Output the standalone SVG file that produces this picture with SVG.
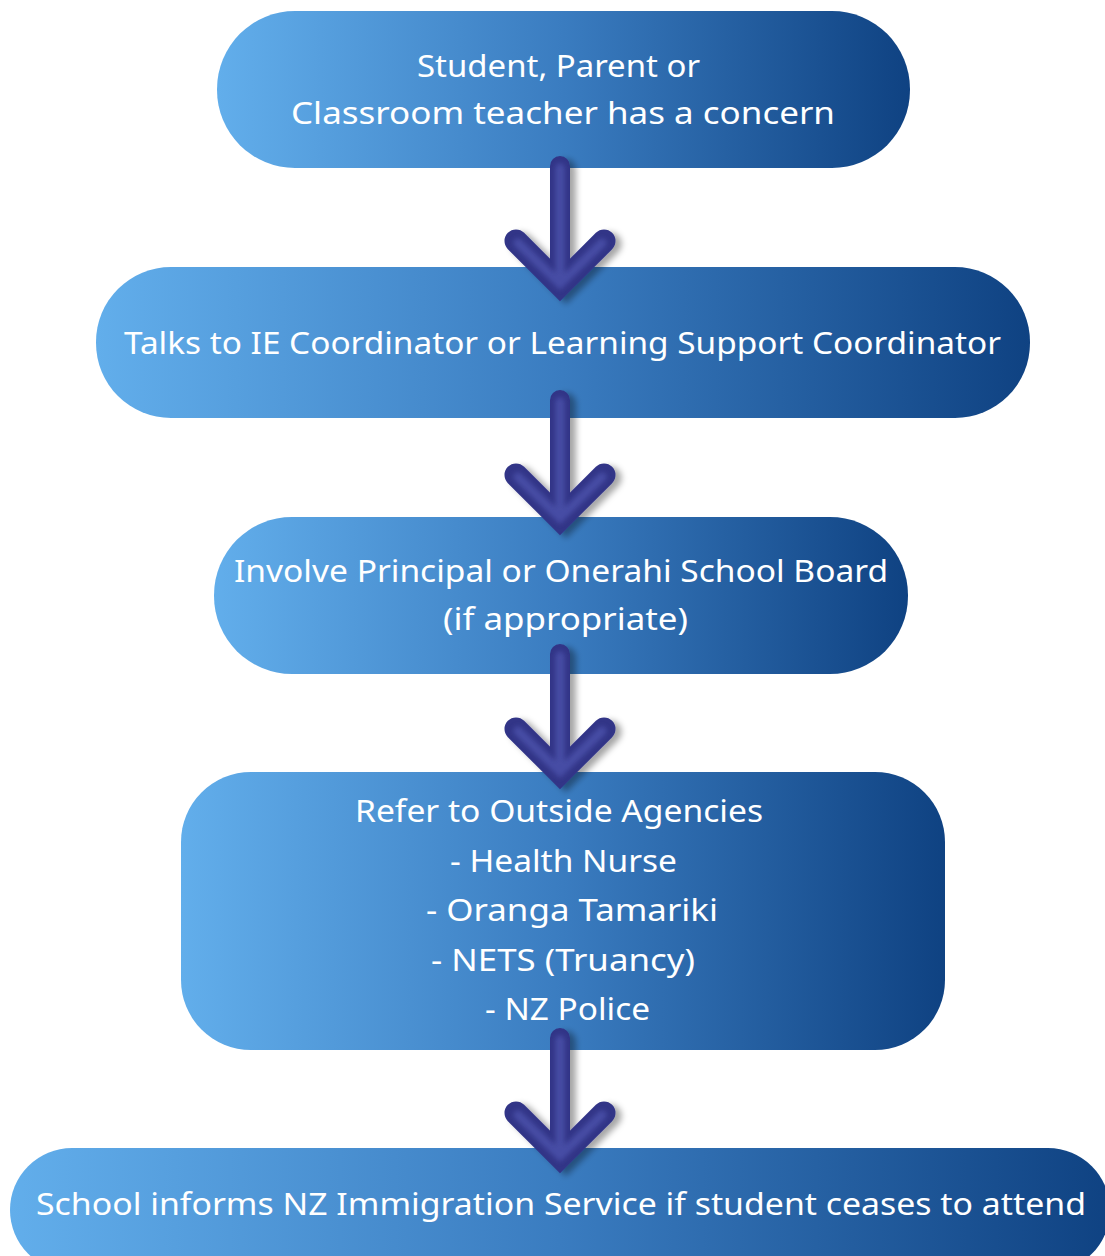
<svg xmlns="http://www.w3.org/2000/svg" width="1105" height="1256" viewBox="0 0 1105 1256">
  <defs>
    <linearGradient id="boxGrad" x1="0" y1="0" x2="1" y2="0">
      <stop offset="0" stop-color="#62aeeb"/>
      <stop offset="0.5" stop-color="#3a7cc0"/>
      <stop offset="1" stop-color="#0f4282"/>
    </linearGradient>
    <filter id="shadow" x="-40%" y="-20%" width="180%" height="150%">
      <feDropShadow dx="6" dy="3" stdDeviation="3" flood-color="#000" flood-opacity="0.35"/>
    </filter>
    <filter id="soft" x="-50%" y="-50%" width="200%" height="200%">
      <feGaussianBlur stdDeviation="2.5"/>
    </filter>
    <g id="arrow">
      <g filter="url(#shadow)">
        <line x1="560" y1="10" x2="560" y2="126" stroke="#323587" stroke-width="20" stroke-linecap="round"/>
        <polyline points="516,85 560,129 604,85" fill="none" stroke="#323587" stroke-width="23" stroke-linecap="round" stroke-linejoin="miter"/>
      </g>
      <g filter="url(#soft)" opacity="0.9">
        <line x1="560" y1="12" x2="560" y2="122" stroke="#4a4fa8" stroke-width="9" stroke-linecap="round"/>
        <polyline points="518,87 560,128 602,87" fill="none" stroke="#4a4fa8" stroke-width="9" stroke-linecap="round"/>
      </g>
    </g>
    <style>
      .box { fill: url(#boxGrad); }
      .lbl { font-family: "Noto Sans", "Open Sans", "Liberation Sans", sans-serif; font-size: 30px; fill: #ffffff; }
    </style>
  </defs>
  <rect width="1105" height="1256" fill="#ffffff"/>

  <g id="node1">
    <rect class="box" x="217" y="11" width="693" height="157" rx="78" ry="78"/>
    <text class="lbl" x="417" y="77" textLength="283" lengthAdjust="spacingAndGlyphs">Student, Parent or</text>
    <text class="lbl" x="291" y="124" textLength="544" lengthAdjust="spacingAndGlyphs">Classroom teacher has a concern</text>
  </g>

  <g id="node2">
    <rect class="box" x="96" y="267" width="934" height="151" rx="75" ry="75"/>
    <text class="lbl" x="124" y="354" textLength="877" lengthAdjust="spacingAndGlyphs">Talks to IE Coordinator or Learning Support Coordinator</text>
  </g>

  <g id="node3">
    <rect class="box" x="214" y="517" width="694" height="157" rx="78" ry="78"/>
    <text class="lbl" x="234" y="582" textLength="654" lengthAdjust="spacingAndGlyphs">Involve Principal or Onerahi School Board</text>
    <text class="lbl" x="443" y="630" textLength="245" lengthAdjust="spacingAndGlyphs">(if appropriate)</text>
  </g>

  <g id="node4">
    <rect class="box" x="181" y="772" width="764" height="278" rx="70" ry="70"/>
    <text class="lbl" x="355" y="822" textLength="408" lengthAdjust="spacingAndGlyphs">Refer to Outside Agencies</text>
    <text class="lbl" x="450" y="872" textLength="227" lengthAdjust="spacingAndGlyphs">- Health Nurse</text>
    <text class="lbl" x="426" y="921" textLength="292" lengthAdjust="spacingAndGlyphs">- Oranga Tamariki</text>
    <text class="lbl" x="431" y="971" textLength="264" lengthAdjust="spacingAndGlyphs">- NETS (Truancy)</text>
    <text class="lbl" x="485" y="1020" textLength="165" lengthAdjust="spacingAndGlyphs">- NZ Police</text>
  </g>

  <g id="node5">
    <rect class="box" x="10" y="1148" width="1100" height="124" rx="62" ry="62"/>
    <text class="lbl" x="36" y="1215" textLength="1050" lengthAdjust="spacingAndGlyphs">School informs NZ Immigration Service if student ceases to attend</text>
  </g>

  <g id="connectors">
    <use href="#arrow" x="0" y="156"/>
    <use href="#arrow" x="0" y="390"/>
    <use href="#arrow" x="0" y="644"/>
    <use href="#arrow" x="0" y="1028"/>
  </g>
</svg>
